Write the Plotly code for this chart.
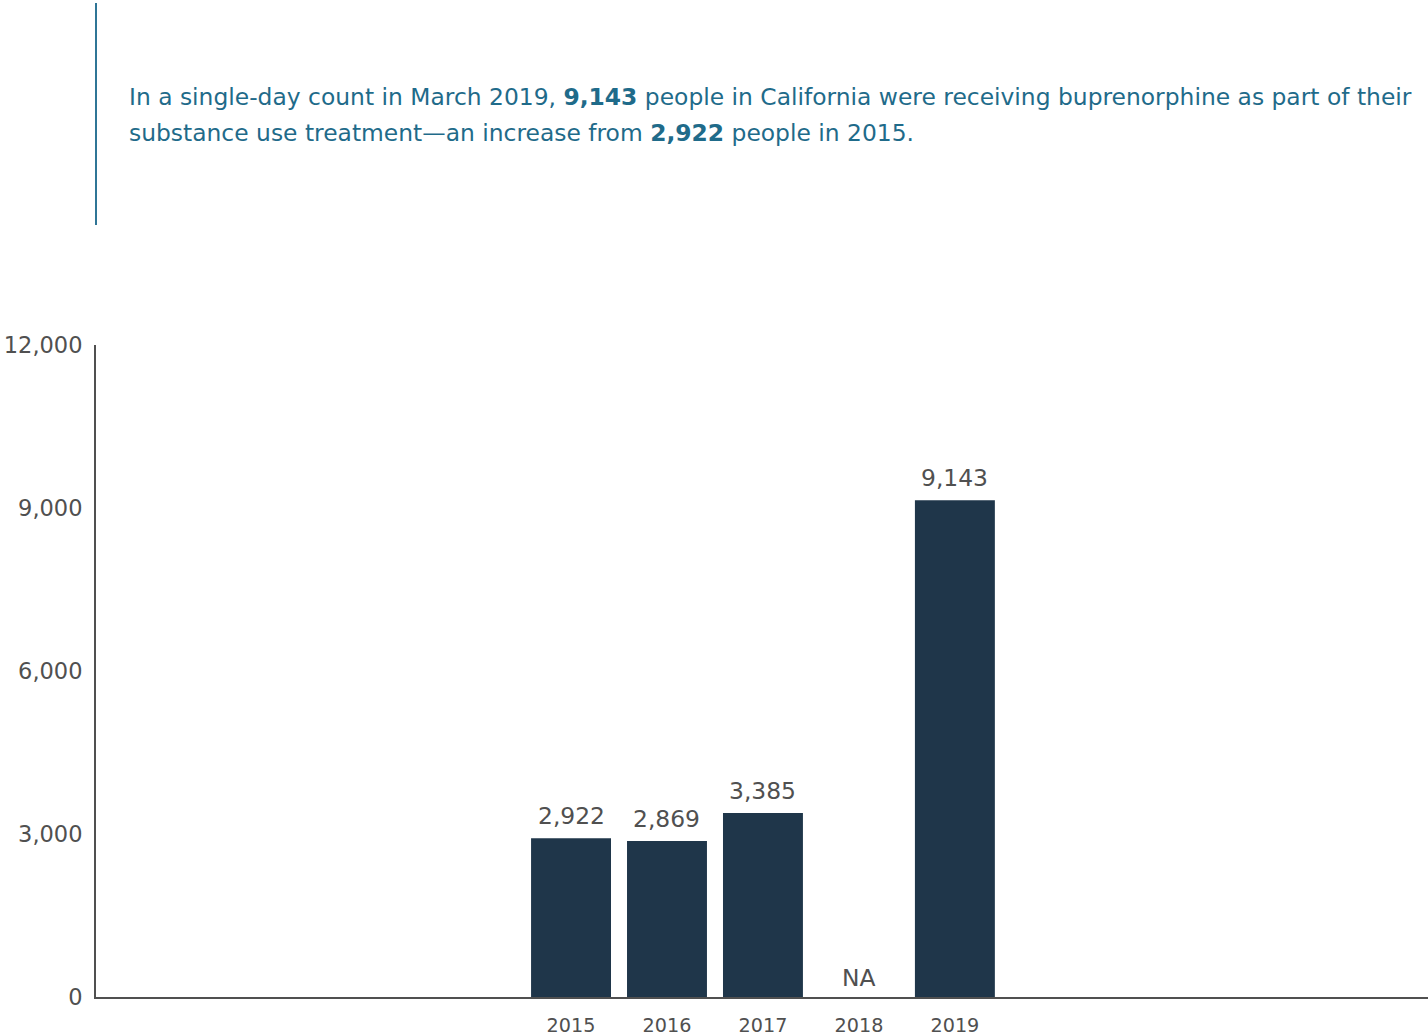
import plotly.graph_objects as go

years = ["2015", "2016", "2017", "2018", "2019"]
values = [2922, 2869, 3385, None, 9143]
labels = ["2,922", "2,869", "3,385", "NA", "9,143"]
y_ticks = [0, 3000, 6000, 9000, 12000]
y_tick_text = ["0", "3,000", "6,000", "9,000", "12,000"]
title_lines = [
    "In a single-day count in March 2019, <b>9,143</b> people in California were receiving buprenorphine as part of their",
    "substance use treatment\u2014an increase from <b>2,922</b> people in 2015.",
]

FONT = "DejaVu Sans"
BAR = "#1f364a"
TEAL = "#1f6b8a"
GREY = "#505050"

TOP = 345
BOTTOM = 997
PH = BOTTOM - TOP

fig = go.Figure()
fig.add_trace(go.Bar(
    x=years, y=values,
    marker=dict(color=BAR, line=dict(width=0)),
    hoverinfo="skip",
))

# value labels above each bar (NA sits on the baseline); x given as category index
for i, (v, lab) in enumerate(zip(values, labels)):
    fig.add_annotation(x=i, y=v if v is not None else 0, xref="x", yref="y",
                       text=lab, showarrow=False, yanchor="bottom",
                       yshift=6 if v is not None else 3,
                       font=dict(family=FONT, size=23.4, color=GREY))

for i, line in enumerate(title_lines):
    fig.add_annotation(
        xref="paper", yref="paper", x=(127 - 96) / 1332,
        y=(BOTTOM - (97 + 36 * i)) / PH,
        xanchor="left", yanchor="middle", align="left", showarrow=False,
        text=line, font=dict(family=FONT, size=23.4, color=TEAL),
    )

fig.add_shape(type="line", xref="paper", yref="paper", x0=0, x1=0,
              y0=(BOTTOM - 225) / PH, y1=(BOTTOM - 3) / PH,
              line=dict(color="#2f7596", width=2))

fig.update_layout(
    width=1428, height=1036,
    margin=dict(l=96, r=0, t=TOP, b=1036 - BOTTOM),
    paper_bgcolor="white", plot_bgcolor="white",
    showlegend=False, bargap=0.167,
    font=dict(family=FONT, color=GREY),
)
fig.update_xaxes(type="category", categoryorder="array", categoryarray=years,
                 range=[-4.95, 8.93], showgrid=False,
                 showline=True, linecolor=GREY, linewidth=2, ticks="",
                 tickfont=dict(family=FONT, size=19.2, color=GREY),
                 zeroline=False, ticklabelstandoff=10)
fig.update_yaxes(range=[0, 12000], tickvals=y_ticks, ticktext=y_tick_text,
                 showgrid=False, showline=True, linecolor=GREY, linewidth=2,
                 ticks="", tickfont=dict(family=FONT, size=22.5, color=GREY),
                 zeroline=False, ticklabelstandoff=7)

fig.write_html("out.html", config={"displayModeBar": False},
               post_script="document.body.style.margin='0';")
